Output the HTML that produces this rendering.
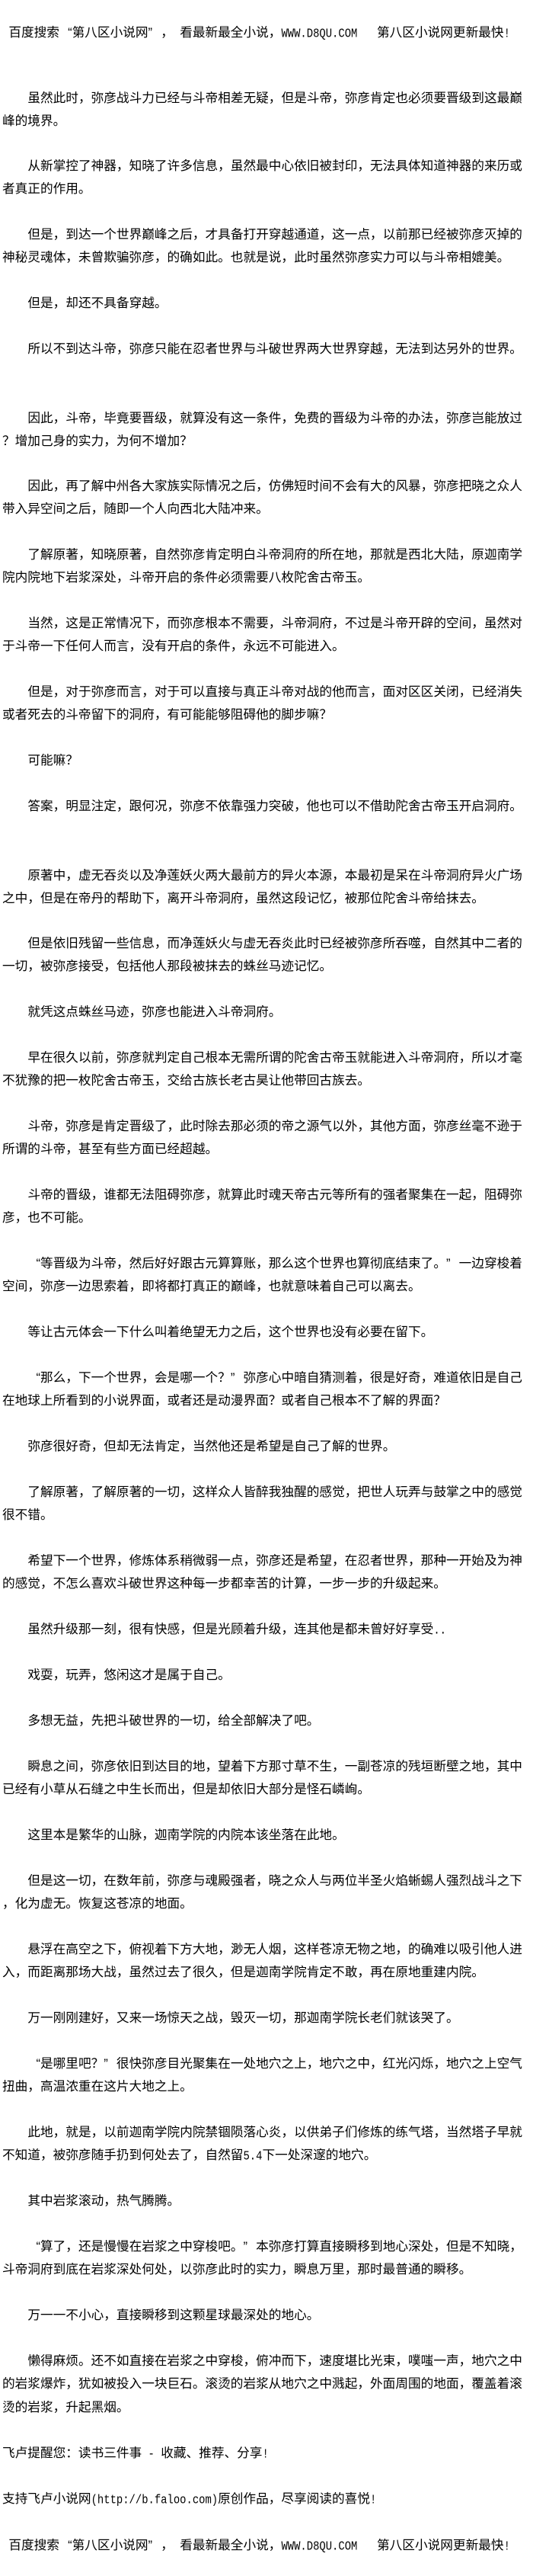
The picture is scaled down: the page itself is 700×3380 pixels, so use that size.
<!DOCTYPE html>
<html lang="zh-CN">
<head>
<meta charset="utf-8">
<title>第八区小说网</title>
<style>
html,body{margin:0;padding:0;background:#fff;}
body{position:relative;width:700px;height:3380px;overflow:hidden;color:#000;}
div{position:absolute;left:3px;white-space:pre;height:30px;line-height:30px;font-family:"Liberation Sans","WenQuanYi Zen Hei","Noto Sans CJK SC",sans-serif;font-size:16.67px;}
div.i{left:36.33px;}
span{display:inline-block;font-family:"Liberation Mono",monospace;font-size:13.89px;transform:scaleY(1.2);}
b{font-weight:400;display:inline-block;width:16.67px;text-align:right;}
b.c{text-align:left;}
u{text-decoration:none;display:inline-block;width:8.33px;}
</style>
</head>
<body>
<div style="top:28px"><u></u>百度搜索<b>“</b>第八区小说网<b class="c">”</b>，<u></u>看最新最全小说，<span>WWW.D8QU.COM</span></div>
<div style="top:28px;left:495px">第八区小说网更新最快<span>!</span></div>
<div class="i" style="top:114px">虽然此时，弥彦战斗力已经与斗帝相差无疑，但是斗帝，弥彦肯定也必须要晋级到这最巅</div>
<div style="top:144px">峰的境界。</div>
<div class="i" style="top:203px">从新掌控了神器，知晓了许多信息，虽然最中心依旧被封印，无法具体知道神器的来历或</div>
<div style="top:233px">者真正的作用。</div>
<div class="i" style="top:293px">但是，到达一个世界巅峰之后，才具备打开穿越通道，这一点，以前那已经被弥彦灭掉的</div>
<div style="top:323px">神秘灵魂体，未曾欺骗弥彦，的确如此。也就是说，此时虽然弥彦实力可以与斗帝相媲美。</div>
<div class="i" style="top:383px">但是，却还不具备穿越。</div>
<div class="i" style="top:443px">所以不到达斗帝，弥彦只能在忍者世界与斗破世界两大世界穿越，无法到达另外的世界。</div>
<div class="i" style="top:534px">因此，斗帝，毕竟要晋级，就算没有这一条件，免费的晋级为斗帝的办法，弥彦岂能放过</div>
<div style="top:564px">？增加己身的实力，为何不增加？</div>
<div class="i" style="top:623px">因此，再了解中州各大家族实际情况之后，仿佛短时间不会有大的风暴，弥彦把晓之众人</div>
<div style="top:653px">带入异空间之后，随即一个人向西北大陆冲来。</div>
<div class="i" style="top:713px">了解原著，知晓原著，自然弥彦肯定明白斗帝洞府的所在地，那就是西北大陆，原迦南学</div>
<div style="top:743px">院内院地下岩浆深处，斗帝开启的条件必须需要八枚陀舍古帝玉。</div>
<div class="i" style="top:803px">当然，这是正常情况下，而弥彦根本不需要，斗帝洞府，不过是斗帝开辟的空间，虽然对</div>
<div style="top:833px">于斗帝一下任何人而言，没有开启的条件，永远不可能进入。</div>
<div class="i" style="top:893px">但是，对于弥彦而言，对于可以直接与真正斗帝对战的他而言，面对区区关闭，已经消失</div>
<div style="top:923px">或者死去的斗帝留下的洞府，有可能能够阻碍他的脚步嘛？</div>
<div class="i" style="top:983px">可能嘛？</div>
<div class="i" style="top:1043px">答案，明显注定，跟何况，弥彦不依靠强力突破，他也可以不借助陀舍古帝玉开启洞府。</div>
<div class="i" style="top:1134px">原著中，虚无吞炎以及净莲妖火两大最前方的异火本源，本最初是呆在斗帝洞府异火广场</div>
<div style="top:1164px">之中，但是在帝丹的帮助下，离开斗帝洞府，虽然这段记忆，被那位陀舍斗帝给抹去。</div>
<div class="i" style="top:1223px">但是依旧残留一些信息，而净莲妖火与虚无吞炎此时已经被弥彦所吞噬，自然其中二者的</div>
<div style="top:1253px">一切，被弥彦接受，包括他人那段被抹去的蛛丝马迹记忆。</div>
<div class="i" style="top:1313px">就凭这点蛛丝马迹，弥彦也能进入斗帝洞府。</div>
<div class="i" style="top:1373px">早在很久以前，弥彦就判定自己根本无需所谓的陀舍古帝玉就能进入斗帝洞府，所以才毫</div>
<div style="top:1403px">不犹豫的把一枚陀舍古帝玉，交给古族长老古昊让他带回古族去。</div>
<div class="i" style="top:1463px">斗帝，弥彦是肯定晋级了，此时除去那必须的帝之源气以外，其他方面，弥彦丝毫不逊于</div>
<div style="top:1493px">所谓的斗帝，甚至有些方面已经超越。</div>
<div class="i" style="top:1553px">斗帝的晋级，谁都无法阻碍弥彦，就算此时魂天帝古元等所有的强者聚集在一起，阻碍弥</div>
<div style="top:1583px">彦，也不可能。</div>
<div class="i" style="top:1643px"><b>“</b>等晋级为斗帝，然后好好跟古元算算账，那么这个世界也算彻底结束了。<b class="c">”</b>一边穿梭着</div>
<div style="top:1673px">空间，弥彦一边思索着，即将都打真正的巅峰，也就意味着自己可以离去。</div>
<div class="i" style="top:1733px">等让古元体会一下什么叫着绝望无力之后，这个世界也没有必要在留下。</div>
<div class="i" style="top:1793px"><b>“</b>那么，下一个世界，会是哪一个？<b class="c">”</b>弥彦心中暗自猜测着，很是好奇，难道依旧是自己</div>
<div style="top:1823px">在地球上所看到的小说界面，或者还是动漫界面？或者自己根本不了解的界面？</div>
<div class="i" style="top:1883px">弥彦很好奇，但却无法肯定，当然他还是希望是自己了解的世界。</div>
<div class="i" style="top:1943px">了解原著，了解原著的一切，这样众人皆醉我独醒的感觉，把世人玩弄与鼓掌之中的感觉</div>
<div style="top:1973px">很不错。</div>
<div class="i" style="top:2033px">希望下一个世界，修炼体系稍微弱一点，弥彦还是希望，在忍者世界，那种一开始及为神</div>
<div style="top:2063px">的感觉，不怎么喜欢斗破世界这种每一步都幸苦的计算，一步一步的升级起来。</div>
<div class="i" style="top:2123px">虽然升级那一刻，很有快感，但是光顾着升级，连其他是都未曾好好享受<span>..</span></div>
<div class="i" style="top:2183px">戏耍，玩弄，悠闲这才是属于自己。</div>
<div class="i" style="top:2243px">多想无益，先把斗破世界的一切，给全部解决了吧。</div>
<div class="i" style="top:2303px">瞬息之间，弥彦依旧到达目的地，望着下方那寸草不生，一副苍凉的残垣断壁之地，其中</div>
<div style="top:2333px">已经有小草从石缝之中生长而出，但是却依旧大部分是怪石嶙峋。</div>
<div class="i" style="top:2393px">这里本是繁华的山脉，迦南学院的内院本该坐落在此地。</div>
<div class="i" style="top:2453px">但是这一切，在数年前，弥彦与魂殿强者，晓之众人与两位半圣火焰蜥蜴人强烈战斗之下</div>
<div style="top:2483px">，化为虚无。恢复这苍凉的地面。</div>
<div class="i" style="top:2543px">悬浮在高空之下，俯视着下方大地，渺无人烟，这样苍凉无物之地，的确难以吸引他人进</div>
<div style="top:2573px">入，而距离那场大战，虽然过去了很久，但是迦南学院肯定不敢，再在原地重建内院。</div>
<div class="i" style="top:2633px">万一刚刚建好，又来一场惊天之战，毁灭一切，那迦南学院长老们就该哭了。</div>
<div class="i" style="top:2693px"><b>“</b>是哪里吧？<b class="c">”</b>很快弥彦目光聚集在一处地穴之上，地穴之中，红光闪烁，地穴之上空气</div>
<div style="top:2723px">扭曲，高温浓重在这片大地之上。</div>
<div class="i" style="top:2783px">此地，就是，以前迦南学院内院禁锢陨落心炎，以供弟子们修炼的练气塔，当然塔子早就</div>
<div style="top:2813px">不知道，被弥彦随手扔到何处去了，自然留<span>5.4</span>下一处深邃的地穴。</div>
<div class="i" style="top:2873px">其中岩浆滚动，热气腾腾。</div>
<div class="i" style="top:2933px"><b>“</b>算了，还是慢慢在岩浆之中穿梭吧。<b class="c">”</b>本弥彦打算直接瞬移到地心深处，但是不知晓，</div>
<div style="top:2963px">斗帝洞府到底在岩浆深处何处，以弥彦此时的实力，瞬息万里，那时最普通的瞬移。</div>
<div class="i" style="top:3023px">万一一不小心，直接瞬移到这颗星球最深处的地心。</div>
<div class="i" style="top:3083px">懒得麻烦。还不如直接在岩浆之中穿梭，俯冲而下，速度堪比光束，噗嗤一声，地穴之中</div>
<div style="top:3113px">的岩浆爆炸，犹如被投入一块巨石。滚烫的岩浆从地穴之中溅起，外面周围的地面，覆盖着滚</div>
<div style="top:3144px">烫的岩浆，升起黑烟。</div>
<div style="top:3204px">飞卢提醒您：读书三件事<span> - </span>收藏、推荐、分享<span>!</span></div>
<div style="top:3264px">支持飞卢小说网<span>(http://b.faloo.com)</span>原创作品，尽享阅读的喜悦<span>!</span></div>
<div style="top:3325px"><u></u>百度搜索<b>“</b>第八区小说网<b class="c">”</b>，<u></u>看最新最全小说，<span>WWW.D8QU.COM</span></div>
<div style="top:3325px;left:495px">第八区小说网更新最快<span>!</span></div>
</body>
</html>
